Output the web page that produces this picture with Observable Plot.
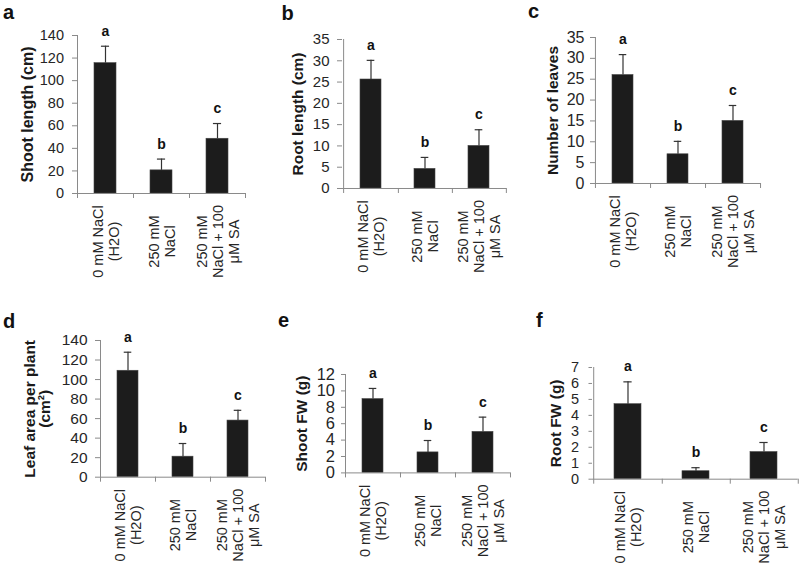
<!DOCTYPE html>
<html><head><meta charset="utf-8">
<script src="https://cdn.jsdelivr.net/npm/d3@7"></script>
<script src="https://cdn.jsdelivr.net/npm/@observablehq/plot@0.6"></script>
<style>
body{margin:0;background:#fff;}
#fig{position:relative;width:800px;height:567px;overflow:hidden;font-family:"Liberation Sans",Arial,sans-serif;background:#fff;}
.panel-letter{position:absolute;font-weight:bold;font-size:20px;line-height:20px;color:#111;}
.panel{position:absolute;}
</style></head><body><div id="fig"></div>
<script>
// ---- data ----
const categories = ["0 mM NaCl\n(H2O)", "250 mM\nNaCl", "250 mM\nNaCl + 100\nμM SA"];
const sigLetters = ["a", "b", "c"];

const shootLength = [115.5, 20.5, 48.5];
const shootLengthSE = [15, 10, 13.5];
const rootLength = [25.6, 4.6, 10];
const rootLengthSE = [4.5, 2.7, 3.8];
const leafNumber = [26, 7, 15];
const leafNumberSE = [4.9, 3.1, 3.7];
const leafArea = [109, 21, 58];
const leafAreaSE = [19, 13.5, 10.5];
const shootFW = [9, 2.5, 5];
const shootFWSE = [1.3, 1.45, 1.8];
const rootFW = [4.7, 0.5, 1.7];
const rootFWSE = [1.4, 0.22, 0.6];

const ticks140 = [0, 20, 40, 60, 80, 100, 120, 140];
const ticks35 = [0, 5, 10, 15, 20, 25, 30, 35];
const ticks12 = [0, 2, 4, 6, 8, 10, 12];
const ticks7 = [0, 1, 2, 3, 4, 5, 6, 7];

const panelLetters = ["a", "b", "c", "d", "e", "f"];
const yLabels = ["Shoot length (cm)", "Root length (cm)", "Number of leaves", "Leaf area per plant\n(cm²)", "Shoot FW (g)", "Root FW (g)"];

// ---- layout (pixels) ----
const layout = [
  {x0: 77, x1: 245, yTop: 35, y0: 193, labelOffset: 50, labelSize: 16, tickFont: 14.5, tickLen: 5, tickPad: 8.5, lx: 3, ly: 2},
  {x0: 341.7, x1: 506, yTop: 39.3, y0: 188.3, labelOffset: 44, labelSize: 15.5, tickFont: 15, tickLen: 5, tickPad: 8, lx: 281.5, ly: 3},
  {x0: 594.7, x1: 760, yTop: 36.7, y0: 182.7, labelOffset: 42.7, labelSize: 15.5, tickFont: 16, tickLen: 5, tickPad: 6, lx: 528, ly: 1},
  {x0: 100, x1: 265, yTop: 340, y0: 476.7, labelOffset: 63, labelSize: 15.5, tickFont: 15.5, tickLen: 5, tickPad: 8, lx: 3, ly: 311},
  {x0: 345, x1: 510, yTop: 374.3, y0: 472.7, labelOffset: 43, labelSize: 15.5, tickFont: 16.5, tickLen: 4, tickPad: 6.5, lx: 278, ly: 310},
  {x0: 592.3, x1: 798, yTop: 367.3, y0: 479, labelOffset: 36, labelSize: 15.5, tickFont: 14.5, tickLen: 3.5, tickPad: 10, lx: 536, ly: 310}
];

const series = [
  [shootLength, shootLengthSE, ticks140],
  [rootLength, rootLengthSE, ticks35],
  [leafNumber, leafNumberSE, ticks35],
  [leafArea, leafAreaSE, ticks140],
  [shootFW, shootFWSE, ticks12],
  [rootFW, rootFWSE, ticks7]
];

const barColor = "#1c1c1c";
const errColor = "#333333";
const axisColor = "#8a8a8a";
const textColor = "#262626";
const padInner = 0.61;

const fig = document.getElementById("fig");

series.forEach(([mean, se, ticks], k) => {
  const L = layout[k];
  const mL = 85, mR = 2, mT = 32, mB = 100;
  const fw = L.x1 - L.x0, fh = L.y0 - L.yTop;
  const step = fw / categories.length;
  const bw = step * (1 - padInner);
  const capInset = (bw - 8) / 2;
  const ymax = ticks[ticks.length - 1];
  const rows = categories.map((c, i) => ({cat: c, mean: mean[i], upper: mean[i] + se[i], sig: sigLetters[i]}));

  const svg = Plot.plot({
    width: fw + mL + mR,
    height: fh + mT + mB,
    marginLeft: mL, marginRight: mR, marginTop: mT, marginBottom: mB,
    style: {fontFamily: "'Liberation Sans', Arial, sans-serif", fontSize: "14.5px", background: "transparent", overflow: "visible", color: textColor},
    x: {domain: categories, paddingInner: padInner, paddingOuter: padInner / 2, axis: null},
    y: {domain: [0, ymax]},
    marks: [
      Plot.barY(rows, {x: "cat", y: "mean", fill: barColor, stroke: "#444", strokeWidth: 0.6}),
      Plot.ruleX(rows, {x: "cat", y1: "mean", y2: "upper", stroke: errColor, strokeWidth: 1.2}),
      Plot.tickY(rows, {x: "cat", y: "upper", stroke: errColor, strokeWidth: 1.2, insetLeft: capInset, insetRight: capInset}),
      Plot.text(rows, {x: "cat", y: "upper", text: "sig", dy: -15, fontWeight: "bold", fontSize: 14, fill: "#111"}),
      Plot.ruleY([0], {stroke: axisColor}),
      Plot.ruleX([categories[0]], {x: d => d, y1: ymax, y2: 0, dx: -step / 2, insetBottom: -5, stroke: axisColor}),
      Plot.ruleX(categories, {x: d => d, y1: 0, y2: 0, dx: step / 2, insetBottom: -5, stroke: axisColor}),
      Plot.axisY({ticks: ticks, tickFormat: d => String(d), tickSize: L.tickLen, tickPadding: L.tickPad, stroke: axisColor, fill: textColor, fontSize: L.tickFont, label: null}),
      Plot.text(categories, {x: d => d, text: d => d, frameAnchor: "bottom", textAnchor: "middle", lineAnchor: "middle", rotate: -90, dy: 48, lineHeight: 1.1, fontSize: 14.5, fill: textColor}),
      Plot.text([yLabels[k]], {text: d => d, frameAnchor: "left", textAnchor: "middle", lineAnchor: "middle", rotate: -90, dx: -L.labelOffset, fontWeight: "bold", fontSize: L.labelSize, lineHeight: 1.0, fill: "#1a1a1a"})
    ]
  });
  svg.classList.add("panel");
  svg.style.left = (L.x0 - mL) + "px";
  svg.style.top = (L.yTop - mT) + "px";
  fig.appendChild(svg);

  const lt = document.createElement("div");
  lt.className = "panel-letter";
  lt.textContent = panelLetters[k];
  lt.style.left = L.lx + "px";
  lt.style.top = L.ly + "px";
  fig.appendChild(lt);
});
</script>
</body></html>
